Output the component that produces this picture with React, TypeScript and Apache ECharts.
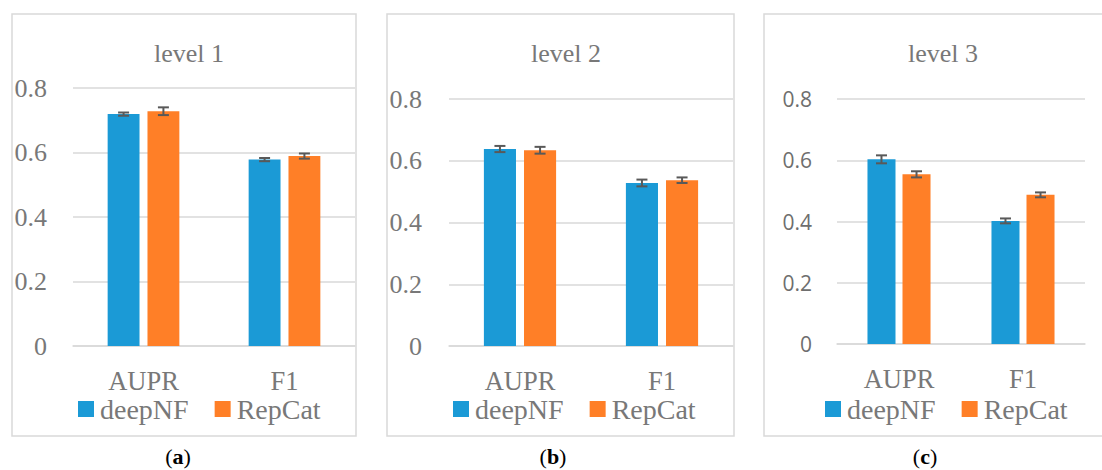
import React, { useEffect, useRef } from "react";
import * as echarts from "echarts";

const categories = ["AUPR", "F1"];
const seriesNames = ["deepNF", "RepCat"];
const panelTitles = ["level 1", "level 2", "level 3"];
const panelCaptions = ["a", "b", "c"];

const level1DeepNF = [0.719, 0.578];
const level1RepCat = [0.728, 0.589];
const level1DeepNFErr = [0.005, 0.005];
const level1RepCatErr = [0.012, 0.008];

const level2DeepNF = [0.638, 0.528];
const level2RepCat = [0.634, 0.537];
const level2DeepNFErr = [0.01, 0.011];
const level2RepCatErr = [0.011, 0.009];

const level3DeepNF = [0.603, 0.402];
const level3RepCat = [0.554, 0.487];
const level3DeepNFErr = [0.013, 0.008];
const level3RepCatErr = [0.01, 0.008];

const COLORS = ["#1B9AD6", "#FF7F27"];
const SERIF = "'Palatino Linotype', 'Book Antiqua', Palatino, 'Liberation Serif', serif";
const SANS = "'Open Sans', 'Noto Sans', sans-serif";
const TEXT = "#787878";
const GRID_LINE = "#d9d9d9";
const BAR_W = 0.226;
const BAR_GAP = 0.25;

const panels = [
  {
    values: [level1DeepNF, level1RepCat],
    errs: [level1DeepNFErr, level1RepCatErr],
    grid: { left: 73, top: 88, width: 282, height: 258 },
    box: { x: 12, y: 14, width: 344, height: 422 },
    titleX: 184,
    legendLeft: 78,
    yFont: SERIF,
    yMargin: 26,
    captionX: 178,
  },
  {
    values: [level2DeepNF, level2RepCat],
    errs: [level2DeepNFErr, level2RepCatErr],
    grid: { left: 449, top: 99, width: 284, height: 247 },
    box: { x: 387, y: 14, width: 347, height: 422 },
    titleX: 561,
    legendLeft: 453,
    yFont: SERIF,
    yMargin: 27,
    captionX: 553,
  },
  {
    values: [level3DeepNF, level3RepCat],
    errs: [level3DeepNFErr, level3RepCatErr],
    grid: { left: 837, top: 99, width: 248, height: 245 },
    box: { x: 764, y: 14, width: 400, height: 422 },
    titleX: 938,
    legendLeft: 825,
    yFont: SANS,
    yMargin: 25,
    captionX: 925,
  },
];

function buildOption() {
  const grids: any[] = [];
  const xAxes: any[] = [];
  const yAxes: any[] = [];
  const series: any[] = [];
  const titles: any[] = [];
  const legends: any[] = [];
  const graphics: any[] = [];

  panels.forEach((p, i) => {
    grids.push({ ...p.grid, containLabel: false });
    xAxes.push({
      type: "category",
      gridIndex: i,
      data: categories,
      axisLine: { show: true, lineStyle: { color: GRID_LINE, width: 1.5 } },
      axisTick: { show: false },
      axisLabel: {
        margin: 21,
        fontFamily: SERIF,
        fontSize: 26.5,
        color: TEXT,
      },
    });
    yAxes.push({
      type: "value",
      gridIndex: i,
      min: 0,
      max: 0.8,
      interval: 0.2,
      axisLine: { show: false },
      axisTick: { show: false },
      splitLine: { lineStyle: { color: GRID_LINE, width: 1.5 } },
      axisLabel: {
        margin: p.yMargin,
        fontFamily: p.yFont,
        fontSize: p.yFont === SANS ? 21 : 26,
        color: p.yFont === SANS ? "#6e6e6e" : TEXT,
        formatter: (v: number) => (v === 0 ? "0" : v.toFixed(1)),
      },
    });
    seriesNames.forEach((name, s) => {
      series.push({
        type: "bar",
        name,
        xAxisIndex: i,
        yAxisIndex: i,
        data: p.values[s],
        barWidth: BAR_W * 100 + "%",
        barGap: BAR_GAP * 100 + "%",
        itemStyle: { color: COLORS[s] },
        z: 2,
      });
    });
    seriesNames.forEach((name, s) => {
      series.push({
        type: "custom",
        name: name + " error",
        xAxisIndex: i,
        yAxisIndex: i,
        z: 5,
        data: p.values[s].map((v, k) => [k, v, p.errs[s][k]]),
        renderItem: (params: any, api: any) => {
          const k = api.value(0);
          const v = api.value(1);
          const e = api.value(2);
          const band = api.size([1, 0])[0];
          const bw = band * BAR_W;
          const off = ((bw + bw * BAR_GAP) / 2) * (s === 0 ? -1 : 1);
          const hi = api.coord([k, v + e]);
          const lo = api.coord([k, v - e]);
          const x = hi[0] + off;
          const cap = 5.5;
          const style = { stroke: "#595959", lineWidth: 2 };
          return {
            type: "group",
            children: [
              { type: "line", shape: { x1: x, y1: hi[1], x2: x, y2: lo[1] }, style },
              { type: "line", shape: { x1: x - cap, y1: hi[1], x2: x + cap, y2: hi[1] }, style },
              { type: "line", shape: { x1: x - cap, y1: lo[1], x2: x + cap, y2: lo[1] }, style },
            ],
          };
        },
      });
    });
    titles.push({
      text: panelTitles[i],
      left: p.titleX,
      top: 35,
      textAlign: "center",
      textStyle: { fontFamily: SERIF, fontSize: 26, fontWeight: "normal", color: TEXT },
    });
    legends.push({
      data: seriesNames,
      left: p.legendLeft,
      top: 395,
      padding: 0,
      icon: "rect",
      itemWidth: 16,
      itemHeight: 16,
      itemGap: 26,
      selectedMode: false,
      textStyle: { fontFamily: SERIF, fontSize: 28, color: TEXT, padding: [0, 0, 0, 1] },
    });
    graphics.push({
      type: "rect",
      shape: { x: p.box.x, y: p.box.y, width: p.box.width, height: p.box.height },
      style: { fill: "none", stroke: GRID_LINE, lineWidth: 1.5 },
      silent: true,
      z: 0,
    });
    graphics.push({
      type: "text",
      x: p.captionX,
      y: 456,
      style: {
        text: "({b|" + panelCaptions[i] + "})",
        rich: { b: { fontWeight: "bold", fontFamily: SERIF, fontSize: 22, fill: "#000" } },
        fontFamily: SERIF,
        fontSize: 22,
        fill: "#000",
        align: "center",
        verticalAlign: "middle",
      },
    });
  });

  return {
    animation: false,
    backgroundColor: "#fff",
    title: titles,
    legend: legends,
    grid: grids,
    xAxis: xAxes,
    yAxis: yAxes,
    series,
    graphic: graphics,
  };
}

export default function App() {
  const ref = useRef<HTMLDivElement>(null);
  useEffect(() => {
    if (!ref.current) return;
    const chart = echarts.init(ref.current, undefined, { renderer: "svg" });
    chart.setOption(buildOption() as any);
    return () => chart.dispose();
  }, []);
  return (
    <div
      ref={ref}
      style={{ position: "absolute", left: 0, top: 0, width: 1102, height: 470 }}
    />
  );
}
